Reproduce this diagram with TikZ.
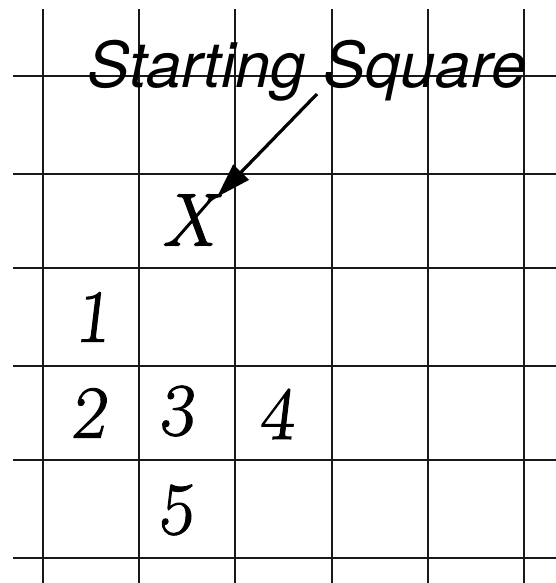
\documentclass[tikz,border=0pt]{standalone}
\usepackage{fontspec}
\usepackage{tikz}
\usetikzlibrary{arrows.meta, positioning}
\newfontfamily\labelfont{TeX Gyre Heros}
\newfontfamily\handfont[FakeSlant=0.12, FakeBold=1.5]{Latin Modern Roman}
\newfontfamily\handxfont[FakeBold=1.5]{Latin Modern Roman}

\begin{document}
\begin{tikzpicture}[
    x=0.75pt, y=-0.75pt,
    gridline/.style={draw=black!90, line width=1.5pt},
    title/.style={font=\labelfont\itshape\fontsize{47.5}{52}\selectfont, inner sep=0pt, anchor=base},
    cellmark/.style={font=\handfont\fontsize{56}{60}\selectfont, inner sep=0pt},
    pointer/.style={line width=2.4pt, -{Triangle[length=26pt, width=16pt]}}
]
    \useasboundingbox (0,0) rectangle (556,583);
    % grid
    \foreach \gx in {43,139.2,235.4,331.6,427.8,524}
        \draw[gridline] (\gx,9) -- (\gx,583);
    \foreach \gy in {76,174,268.3,365.7,460,558.3}
        \draw[gridline] (12.7,\gy) -- (556,\gy);

    \node[title] (heading) at (307,87) {Starting Square};
    \node[cellmark, font=\handxfont\itshape\fontsize{56}{60}\selectfont] (start) at (188,220) {X};
    \node[cellmark] (one) at (92,317) {1};
    \node[cellmark] (two) at (88,413) {2};
    \node[cellmark] (three) at (176,411) {3};
    \node[cellmark] (four) at (276,414) {4};
    \node[cellmark] (five) at (175,510) {5};

    \coordinate (arrowtail) at (317,94);
    \coordinate (arrowtip) at (217,197);
    \draw[pointer] (arrowtail) -- (arrowtip);
\end{tikzpicture}
\end{document}
